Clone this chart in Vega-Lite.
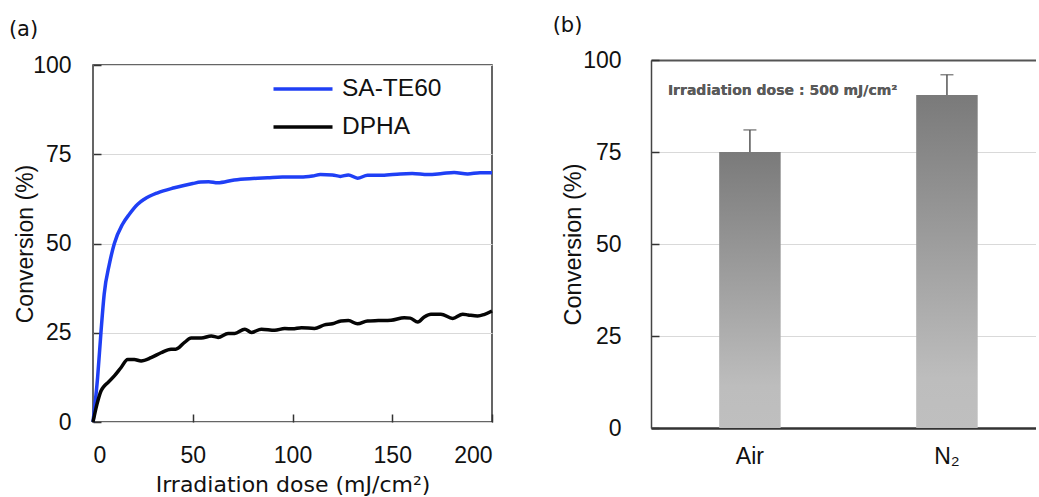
{
  "$schema": "https://vega.github.io/schema/vega-lite/v6.json",
  "padding": {"left": 8, "top": 15, "right": 0, "bottom": 0},
  "background": "white",
  "datasets": {
    "curves": [
      {"series": "SA-TE60", "dose": 0, "conv": 0},
      {"series": "SA-TE60", "dose": 2.3, "conv": 12.4},
      {"series": "SA-TE60", "dose": 4, "conv": 25.2},
      {"series": "SA-TE60", "dose": 5.6, "conv": 35.8},
      {"series": "SA-TE60", "dose": 8.2, "conv": 44.2},
      {"series": "SA-TE60", "dose": 10.7, "conv": 50},
      {"series": "SA-TE60", "dose": 14.8, "conv": 55.4},
      {"series": "SA-TE60", "dose": 18.2, "conv": 58.2},
      {"series": "SA-TE60", "dose": 22.4, "conv": 61},
      {"series": "SA-TE60", "dose": 25.7, "conv": 62.4},
      {"series": "SA-TE60", "dose": 32.4, "conv": 64.2},
      {"series": "SA-TE60", "dose": 40.8, "conv": 65.6},
      {"series": "SA-TE60", "dose": 50, "conv": 66.8},
      {"series": "SA-TE60", "dose": 54, "conv": 67.2},
      {"series": "SA-TE60", "dose": 58, "conv": 67.3},
      {"series": "SA-TE60", "dose": 62.5, "conv": 67},
      {"series": "SA-TE60", "dose": 70.8, "conv": 67.8},
      {"series": "SA-TE60", "dose": 80, "conv": 68.2},
      {"series": "SA-TE60", "dose": 87.5, "conv": 68.4},
      {"series": "SA-TE60", "dose": 95, "conv": 68.6},
      {"series": "SA-TE60", "dose": 104.2, "conv": 68.6},
      {"series": "SA-TE60", "dose": 110, "conv": 68.9},
      {"series": "SA-TE60", "dose": 114, "conv": 69.3},
      {"series": "SA-TE60", "dose": 120, "conv": 69.2},
      {"series": "SA-TE60", "dose": 124, "conv": 68.8},
      {"series": "SA-TE60", "dose": 128, "conv": 69.2},
      {"series": "SA-TE60", "dose": 132.6, "conv": 68.3},
      {"series": "SA-TE60", "dose": 137.6, "conv": 69.1},
      {"series": "SA-TE60", "dose": 145, "conv": 69.1},
      {"series": "SA-TE60", "dose": 154, "conv": 69.5},
      {"series": "SA-TE60", "dose": 160, "conv": 69.6},
      {"series": "SA-TE60", "dose": 167.9, "conv": 69.3},
      {"series": "SA-TE60", "dose": 175, "conv": 69.6},
      {"series": "SA-TE60", "dose": 181, "conv": 69.9},
      {"series": "SA-TE60", "dose": 187.8, "conv": 69.5},
      {"series": "SA-TE60", "dose": 194, "conv": 69.8},
      {"series": "SA-TE60", "dose": 200, "conv": 69.8},
      {"series": "DPHA", "dose": 0, "conv": 0},
      {"series": "DPHA", "dose": 2, "conv": 5},
      {"series": "DPHA", "dose": 4, "conv": 8.7},
      {"series": "DPHA", "dose": 5.5, "conv": 10},
      {"series": "DPHA", "dose": 7.4, "conv": 11},
      {"series": "DPHA", "dose": 10.7, "conv": 12.9},
      {"series": "DPHA", "dose": 14, "conv": 15.2},
      {"series": "DPHA", "dose": 17.4, "conv": 17.5},
      {"series": "DPHA", "dose": 20.7, "conv": 17.5},
      {"series": "DPHA", "dose": 24.1, "conv": 17.1},
      {"series": "DPHA", "dose": 29.1, "conv": 18},
      {"series": "DPHA", "dose": 34.1, "conv": 19.4},
      {"series": "DPHA", "dose": 39.1, "conv": 20.4},
      {"series": "DPHA", "dose": 41.5, "conv": 20.4},
      {"series": "DPHA", "dose": 45.9, "conv": 22.3},
      {"series": "DPHA", "dose": 49.2, "conv": 23.5},
      {"series": "DPHA", "dose": 54.3, "conv": 23.5},
      {"series": "DPHA", "dose": 59.3, "conv": 24.1},
      {"series": "DPHA", "dose": 62.7, "conv": 23.7},
      {"series": "DPHA", "dose": 67.7, "conv": 24.8},
      {"series": "DPHA", "dose": 71, "conv": 24.8},
      {"series": "DPHA", "dose": 76.1, "conv": 26},
      {"series": "DPHA", "dose": 79.4, "conv": 25.1},
      {"series": "DPHA", "dose": 84.4, "conv": 26},
      {"series": "DPHA", "dose": 91.1, "conv": 25.7},
      {"series": "DPHA", "dose": 96.1, "conv": 26.2},
      {"series": "DPHA", "dose": 100, "conv": 26.1},
      {"series": "DPHA", "dose": 104.5, "conv": 26.4},
      {"series": "DPHA", "dose": 111, "conv": 26.2},
      {"series": "DPHA", "dose": 116, "conv": 27.2},
      {"series": "DPHA", "dose": 120, "conv": 27.5},
      {"series": "DPHA", "dose": 124.3, "conv": 28.3},
      {"series": "DPHA", "dose": 128, "conv": 28.4},
      {"series": "DPHA", "dose": 132.6, "conv": 27.5},
      {"series": "DPHA", "dose": 137.6, "conv": 28.3},
      {"series": "DPHA", "dose": 143, "conv": 28.4},
      {"series": "DPHA", "dose": 149.4, "conv": 28.5},
      {"series": "DPHA", "dose": 156, "conv": 29.2},
      {"series": "DPHA", "dose": 159, "conv": 29.1},
      {"series": "DPHA", "dose": 162.8, "conv": 28},
      {"series": "DPHA", "dose": 166, "conv": 29.4},
      {"series": "DPHA", "dose": 169.4, "conv": 30.2},
      {"series": "DPHA", "dose": 174.4, "conv": 30.2},
      {"series": "DPHA", "dose": 180.3, "conv": 29},
      {"series": "DPHA", "dose": 185.3, "conv": 30.2},
      {"series": "DPHA", "dose": 188, "conv": 30},
      {"series": "DPHA", "dose": 192.8, "conv": 29.7},
      {"series": "DPHA", "dose": 196, "conv": 30.1},
      {"series": "DPHA", "dose": 200, "conv": 31.1}
    ],
    "bars": [
      {"cond": "Air", "conv": 75, "upper": 81},
      {"cond": "N₂", "conv": 90.5, "upper": 96}
    ],
    "empty": []
  },
  "config": {
    "view": {"stroke": null},
    "concat": {"spacing": 52},
    "axis": {
      "labelFont": "Liberation Sans",
      "labelColor": "#111",
      "titleFont": "Liberation Sans",
      "titleColor": "#111",
      "titleFontWeight": "normal",
      "tickColor": "#333",
      "gridColor": "#d9d9d9",
      "gridWidth": 1
    }
  },
  "hconcat": [
    {
      "title": {
        "text": "(a)",
        "anchor": "start",
        "frame": "bounds",
        "dx": -5,
        "offset": 13.5,
        "font": "DejaVu Sans",
        "fontSize": 21,
        "fontWeight": "normal",
        "color": "#111"
      },
      "spacing": 0,
      "bounds": "flush",
      "vconcat": [
        {
          "width": 399,
          "height": 5,
          "data": {"name": "empty"},
          "mark": {"type": "point"},
          "encoding": {}
        },
        {
          "width": 399,
          "height": 357,
          "view": {"stroke": "#333", "strokeWidth": 1.5},
          "data": {"name": "curves"},
          "mark": {"type": "line", "strokeWidth": 3.5, "interpolate": "monotone"},
          "encoding": {
            "x": {
              "field": "dose",
              "type": "quantitative",
              "scale": {"domain": [0, 200], "nice": false},
              "axis": {
                "values": [0, 50, 100, 150, 200],
                "grid": false,
                "domain": false,
                "tickSize": -8,
                "tickWidth": 1.5,
                "labelFontSize": 23,
                "labelPadding": 30,
                "title": "Irradiation dose (mJ/cm²)",
                "titleFont": "DejaVu Sans",
                "titleFontSize": 22,
                "titlePadding": 7
              }
            },
            "y": {
              "field": "conv",
              "type": "quantitative",
              "scale": {"domain": [0, 100], "nice": false},
              "axis": {
                "values": [0, 25, 50, 75, 100],
                "grid": true,
                "domain": false,
                "tickSize": -8,
                "tickWidth": 1.5,
                "labelFontSize": 23,
                "labelPadding": 30,
                "title": "Conversion (%)",
                "titleFontSize": 23,
                "titlePadding": -5
              }
            },
            "color": {
              "field": "series",
              "type": "nominal",
              "scale": {"domain": ["SA-TE60", "DPHA"], "range": ["#1f3ff5", "#050505"]},
              "legend": {
                "orient": "none",
                "legendX": 196,
                "legendY": 15,
                "title": null,
                "padding": 0,
                "symbolType": "M-2.5,0H2.5",
                "symbolSize": 557,
                "symbolStrokeWidth": 3.5,
                "labelFont": "Liberation Sans",
                "labelFontSize": 24.5,
                "labelColor": "#111",
                "labelOffset": 25,
                "rowPadding": 12
              }
            }
          }
        }
      ]
    },
    {
      "width": 385,
      "height": 368,
      "title": {
        "text": "(b)",
        "anchor": "start",
        "frame": "bounds",
        "dx": -9,
        "offset": 13,
        "font": "DejaVu Sans",
        "fontSize": 21,
        "fontWeight": "normal",
        "color": "#111"
      },
      "data": {"name": "bars"},
      "resolve": {"axis": {"x": "independent"}},
      "layer": [
        {
          "mark": {
            "type": "bar",
            "width": {"band": 0.414},
            "color": {
              "gradient": "linear",
              "x1": 0, "y1": 0, "x2": 0, "y2": 1,
              "stops": [
                {"offset": 0, "color": "#7a7a7a"},
                {"offset": 0.85, "color": "#bdbdbd"},
                {"offset": 1, "color": "#bfbfbf"}
              ]
            }
          },
          "encoding": {
            "x": {
              "field": "cond",
              "type": "nominal",
              "sort": null,
              "scale": {"domain": ["Air", "N₂"], "paddingInner": 0.246, "paddingOuter": 0.1, "align": 0.625},
              "axis": {
                "title": null,
                "labelAngle": 0,
                "ticks": false,
                "domain": true,
                "domainColor": "#333",
                "domainWidth": 2.5,
                "labelFontSize": 23,
                "labelPadding": 17
              }
            },
            "y": {
              "field": "conv",
              "type": "quantitative",
              "scale": {"domain": [0, 100], "nice": false},
              "axis": {
                "values": [0, 25, 50, 75, 100],
                "grid": true,
                "domain": true,
                "domainColor": "#444",
                "domainWidth": 1.5,
                "tickSize": -8,
                "tickWidth": 1.5,
                "labelFontSize": 23,
                "labelPadding": 38,
                "title": "Conversion (%)",
                "titleFontSize": 23.5,
                "titlePadding": -3
              }
            }
          }
        },
        {
          "mark": {"type": "rule", "color": "#555", "strokeWidth": 1.5},
          "encoding": {
            "x": {"field": "cond", "type": "nominal", "sort": null, "axis": null},
            "y": {"field": "conv", "type": "quantitative"},
            "y2": {"field": "upper"}
          }
        },
        {
          "mark": {"type": "tick", "color": "#555", "size": 13, "thickness": 1.5},
          "encoding": {
            "x": {
              "field": "cond",
              "type": "nominal",
              "sort": null,
              "axis": {
                "orient": "top",
                "title": null,
                "labels": false,
                "ticks": false,
                "domain": true,
                "domainColor": "#555",
                "domainWidth": 2
              }
            },
            "y": {"field": "upper", "type": "quantitative"}
          }
        },
        {
          "mark": {
            "type": "text",
            "align": "left",
            "baseline": "middle",
            "dx": -82,
            "font": "DejaVu Sans",
            "fontSize": 14,
            "fontWeight": "bold",
            "color": "#5a5a5a"
          },
          "encoding": {
            "x": {"datum": "Air", "type": "nominal", "axis": null},
            "y": {"datum": 91.6, "type": "quantitative"},
            "text": {"value": "Irradiation dose : 500 mJ/cm²"}
          }
        }
      ]
    }
  ]
}
